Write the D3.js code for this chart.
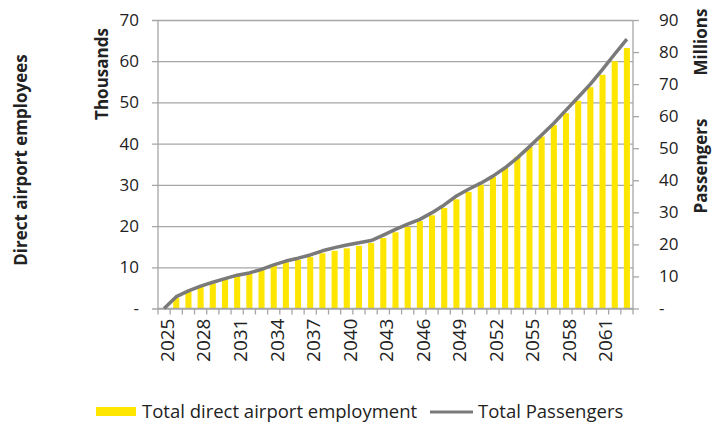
<!DOCTYPE html>
<html lang="en">
<head>
    <meta charset="UTF-8">
    <script src="https://d3js.org/d3.v7.min.js"></script>
    <style>
        body {margin: 0; background-color: #ffffff}
        svg {display: block}
        text {font-family: "Open Sans", sans-serif; fill: #222}
        .title {font-weight: bold; font-size: 17px}
    </style>
</head>
<body>
<svg class="chart"></svg>
<script type="text/javascript">
    // years on the category axis
    var years = d3.range(2025, 2064).map(String);

    // direct airport employment, thousands (left axis)
    var employment = [0, 2.6, 4.1, 5.3, 6.1, 7.1, 7.9, 8.6, 9.4, 10.5,
        11.2, 11.8, 12.5, 13.4, 14.0, 14.6, 15.2, 15.9, 17.1, 18.5,
        19.8, 21.2, 22.6, 24.4, 26.5, 28.3, 30.0, 32.0, 34.2, 36.8,
        39.2, 41.7, 44.5, 47.4, 50.4, 53.7, 56.7, 60.0, 63.2];

    // total passengers, millions (right axis)
    var passengers = [0, 3.7, 5.5, 7.0, 8.2, 9.3, 10.4, 11.1, 12.2, 13.6,
        14.8, 15.7, 16.7, 18.0, 19.0, 19.8, 20.5, 21.2, 22.9, 24.7,
        26.3, 27.8, 29.9, 32.3, 35.1, 37.2, 39.1, 41.3, 43.9, 47.0,
        50.5, 54.1, 57.8, 61.9, 65.9, 70.0, 74.6, 79.4, 84.0];

    var leftTicks = [0, 10, 20, 30, 40, 50, 60, 70];
    var rightTicks = [0, 10, 20, 30, 40, 50, 60, 70, 80, 90];

    function draw() {
        var width = 712, height = 423;
        var plotLeft = 158, plotRight = 633, plotTop = 20, plotBottom = 308.5;
        var yellow = '#ffe600', lineGrey = '#7a7a7a', gridGrey = '#a6a6a6';

        var svg = d3.select('.chart').attr('width', width).attr('height', height);

        var x = d3.scaleBand().domain(years).range([plotLeft, plotRight])
            .paddingInner(0.5).paddingOuter(0.25);
        var yL = d3.scaleLinear().domain([0, 70]).range([plotBottom, plotTop]);
        var yR = d3.scaleLinear().domain([0, 90]).range([plotBottom, plotTop]);
        var step = x.step();
        var fmt = function (d) { return d === 0 ? '-' : d; };

        // gridlines + left axis
        var gLeft = svg.append('g').attr('transform', 'translate(' + plotLeft + ',0)')
            .call(d3.axisLeft(yL).tickValues(leftTicks).tickFormat(fmt)
                .tickSize(6).tickPadding(13));
        gLeft.select('.domain').remove();
        gLeft.selectAll('.tick line').attr('x2', plotRight - plotLeft).attr('x1', -6)
            .style('stroke', gridGrey).style('stroke-width', 1.3);
        gLeft.selectAll('.tick text').style('font-size', '17px')
            .style('font-family', '"Open Sans", sans-serif').attr('fill', '#222');

        // bars
        svg.append('g').selectAll('rect')
            .data(employment)
            .enter()
            .append('rect')
            .attr('x', function (d, i) { return x(years[i]); })
            .attr('width', x.bandwidth())
            .attr('y', function (d) { return yL(d); })
            .attr('height', function (d) { return plotBottom - yL(d); })
            .attr('fill', yellow);

        // left axis line
        svg.append('line').attr('x1', plotLeft).attr('x2', plotLeft)
            .attr('y1', plotTop).attr('y2', plotBottom)
            .style('stroke', gridGrey).style('stroke-width', 1.3);

        // right axis
        var gRight = svg.append('g').attr('transform', 'translate(' + plotRight + ',0)')
            .call(d3.axisRight(yR).tickValues(rightTicks).tickFormat(fmt)
                .tickSize(6).tickPadding(20));
        gRight.select('.domain').attr('d', 'M0,' + plotTop + 'V' + plotBottom)
            .style('stroke', gridGrey).style('stroke-width', 1.3);
        gRight.selectAll('.tick line').style('stroke', gridGrey).style('stroke-width', 1.3);
        gRight.selectAll('.tick text').style('font-size', '17px')
            .style('font-family', '"Open Sans", sans-serif').attr('fill', '#222');

        // category axis
        svg.append('line').attr('x1', plotLeft).attr('x2', plotRight)
            .attr('y1', plotBottom).attr('y2', plotBottom)
            .style('stroke', gridGrey).style('stroke-width', 1.3);
        svg.append('g').selectAll('line')
            .data(d3.range(years.length + 1))
            .enter()
            .append('line')
            .attr('x1', function (k) { return plotLeft + k * step; })
            .attr('x2', function (k) { return plotLeft + k * step; })
            .attr('y1', plotBottom)
            .attr('y2', plotBottom + 6)
            .style('stroke', gridGrey).style('stroke-width', 1.3);

        var gX = svg.append('g').attr('transform', 'translate(3,' + plotBottom + ')')
            .call(d3.axisBottom(x).tickSize(0)
                .tickFormat(function (d, i) { return i % 3 === 0 ? d : ''; }));
        gX.select('.domain').remove();
        gX.selectAll('.tick text')
            .style('font-size', '19px')
            .style('font-family', '"Open Sans", sans-serif')
            .attr('fill', '#222')
            .attr('text-anchor', 'end')
            .attr('transform', 'rotate(-90)')
            .attr('x', -10)
            .attr('y', 0)
            .attr('dy', '0.36em')
            .attr('dx', 0);

        // passengers line
        var line = d3.line()
            .x(function (d, i) { return x(years[i]) + x.bandwidth() / 2; })
            .y(function (d) { return yR(d); });
        svg.append('path')
            .datum(passengers)
            .attr('d', line)
            .attr('fill', 'none')
            .style('stroke', lineGrey)
            .style('stroke-width', 3.5)
            .style('stroke-linejoin', 'round');

        // axis titles
        svg.append('text').attr('class', 'title')
            .attr('transform', 'translate(27,160) rotate(-90)')
            .attr('text-anchor', 'middle').text('Direct airport employees');
        svg.append('text').attr('class', 'title')
            .attr('transform', 'translate(108,74) rotate(-90)')
            .attr('text-anchor', 'middle').text('Thousands');
        svg.append('text').attr('class', 'title')
            .attr('transform', 'translate(707,42) rotate(-90)')
            .attr('text-anchor', 'middle').text('Millions');
        svg.append('text').attr('class', 'title')
            .attr('transform', 'translate(707,166) rotate(-90)')
            .attr('text-anchor', 'middle').text('Passengers');

        // legend
        var legend = svg.append('g');
        legend.append('rect').attr('x', 96).attr('y', 407).attr('width', 40).attr('height', 9)
            .attr('fill', yellow);
        legend.append('text').attr('x', 142).attr('y', 418).style('font-size', '18.5px')
            .text('Total direct airport employment');
        legend.append('line').attr('x1', 430).attr('x2', 473).attr('y1', 412).attr('y2', 412)
            .style('stroke', lineGrey).style('stroke-width', 3);
        legend.append('text').attr('x', 478).attr('y', 418).style('font-size', '18.5px')
            .text('Total Passengers');
    }

    draw();
</script>
</body>
</html>
